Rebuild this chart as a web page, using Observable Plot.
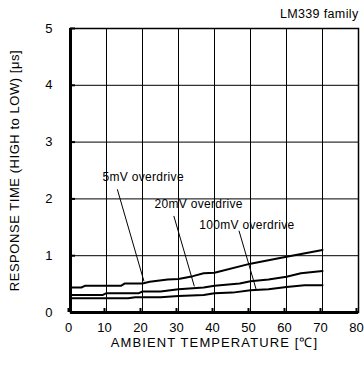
<!DOCTYPE html>
<html>
<head>
<meta charset="utf-8">
<script src="https://cdn.jsdelivr.net/npm/d3@7"></script>
<script src="https://cdn.jsdelivr.net/npm/@observablehq/plot@0.6"></script>
<style>
  html, body { margin: 0; padding: 0; background: #fff; }
  #chart svg { display: block; }
</style>
</head>
<body>
<div id="chart"></div>
<script>
const temp5 = [0, 3, 4, 14, 15, 20, 22, 27, 30, 34, 37, 40, 50, 60, 70];
const resp5 = [0.44, 0.44, 0.47, 0.47, 0.51, 0.51, 0.54, 0.58, 0.59, 0.64, 0.69, 0.70, 0.86, 0.98, 1.10];

const temp20 = [0, 9, 10, 19, 20, 25, 30, 37, 40, 47, 50, 55, 60, 64, 70];
const resp20 = [0.31, 0.31, 0.34, 0.34, 0.37, 0.37, 0.41, 0.44, 0.47, 0.51, 0.55, 0.58, 0.63, 0.69, 0.73];

const temp100 = [0, 16, 18, 25, 30, 37, 40, 45, 50, 55, 60, 65, 70];
const resp100 = [0.25, 0.25, 0.27, 0.27, 0.29, 0.31, 0.34, 0.35, 0.39, 0.41, 0.45, 0.48, 0.48];

const labelNames = ["5mV overdrive", "20mV overdrive", "100mV overdrive"];
const labelX = [20.2, 35.6, 49.0];
const labelY = [2.38, 1.91, 1.54];
const leaderX1 = [13.0, 28.7, 46.8];
const leaderY1 = [2.17, 1.70, 1.44];
const leaderX2 = [20.4, 34.4, 51.6];
const leaderY2 = [0.55, 0.46, 0.40];

const xTicks = [0, 10, 20, 30, 40, 50, 60, 70, 80];
const yTicks = [0, 1, 2, 3, 4, 5];

const chartTitle = "LM339 family";
const xTitle = "AMBIENT TEMPERATURE [℃]";
const yTitle = "RESPONSE TIME (HIGH to LOW) [μs]";

const series = [
  ...temp5.map((t, i) => ({s: "5mV", t, v: resp5[i]})),
  ...temp20.map((t, i) => ({s: "20mV", t, v: resp20[i]})),
  ...temp100.map((t, i) => ({s: "100mV", t, v: resp100[i]}))
];
const labels = labelNames.map((name, i) => ({
  name, x: labelX[i], y: labelY[i],
  x1: leaderX1[i], y1: leaderY1[i], x2: leaderX2[i], y2: leaderY2[i]
}));

const font = "Liberation Sans, Arial, sans-serif";

const chart = Plot.plot({
  width: 364,
  height: 368,
  marginLeft: 70,
  marginRight: 6,
  marginTop: 28,
  marginBottom: 56,
  style: {fontFamily: font, color: "#000", background: "#fff"},
  x: {domain: [0, 80]},
  y: {domain: [0, 5]},
  marks: [
    Plot.gridX(xTicks, {stroke: "#000", strokeOpacity: 1, strokeWidth: 1}),
    Plot.gridY(yTicks, {stroke: "#000", strokeOpacity: 1, strokeWidth: 1}),
    Plot.axisX(xTicks, {tickSize: -4, tickPadding: 14, fontSize: 13, label: null, strokeWidth: 2, dx: -2, tickFormat: d => String(d)}),
    Plot.axisY(yTicks, {tickSize: -5, tickPadding: 23, fontSize: 13, label: null, strokeWidth: 2, tickFormat: d => String(d)}),
    Plot.frame({stroke: "#000", strokeWidth: 1.5}),
    Plot.ruleX([0], {stroke: "#000", strokeWidth: 3}),
    Plot.ruleY([0], {stroke: "#000", strokeWidth: 3}),
    Plot.line(series, {x: "t", y: "v", z: "s", stroke: "#000", strokeWidth: 2}),
    Plot.link(labels, {x1: "x1", y1: "y1", x2: "x2", y2: "y2", stroke: "#000", strokeWidth: 1}),
    Plot.text(labels, {x: "x", y: "y", text: "name", fontSize: 12, fill: "#000"}),
    Plot.text([chartTitle], {frameAnchor: "top-right", dy: -15, fontSize: 12.5, textAnchor: "end", lineAnchor: "middle"}),
    Plot.text([xTitle], {frameAnchor: "bottom", dy: 30, fontSize: 13, textAnchor: "middle", lineAnchor: "middle"}),
    Plot.text([yTitle], {frameAnchor: "left", dx: -56, rotate: -90, fontSize: 13, textAnchor: "middle", lineAnchor: "middle"})
  ]
});
d3.select(chart).selectAll("text").each(function() {
  const t = this.textContent;
  if (t === xTitle) this.setAttribute("letter-spacing", "1.1");
  else if (t === yTitle) this.setAttribute("letter-spacing", "0.55");
  else if (t === chartTitle) this.setAttribute("letter-spacing", "0.35");
  else if (labelNames.includes(t)) this.setAttribute("letter-spacing", "0.3");
});
document.getElementById("chart").appendChild(chart);
</script>
</body>
</html>
